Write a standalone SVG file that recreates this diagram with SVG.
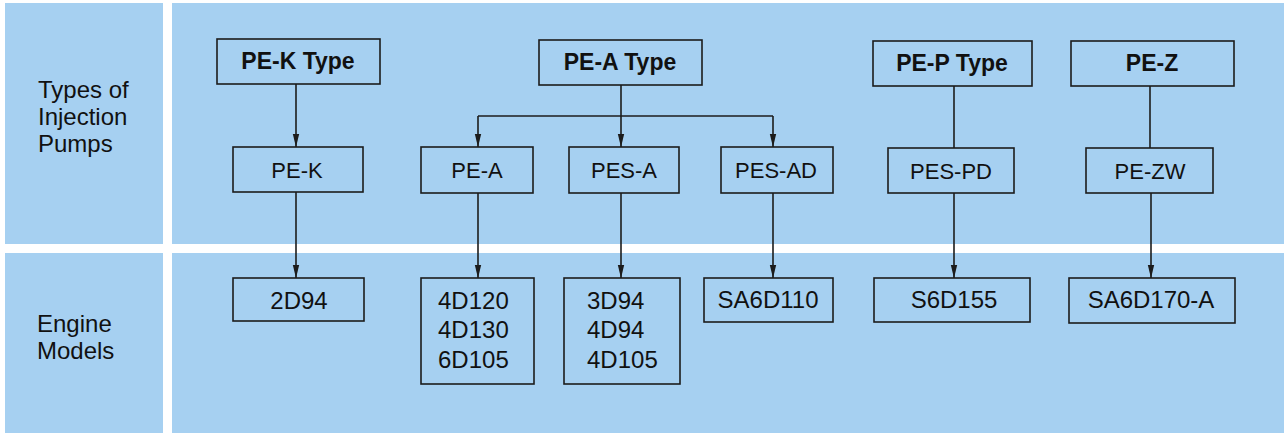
<svg xmlns="http://www.w3.org/2000/svg" width="1284" height="435" viewBox="0 0 1284 435">
<defs>
<style>
.panel{fill:#a6d0f1}
.box{fill:#a6d0f1;stroke:#1c1c1c;stroke-width:1.6}
.t{font-family:"Liberation Sans",Arial,sans-serif;fill:#111;text-anchor:middle}
.b{font-weight:bold;font-size:23px}
.m{font-size:22px}
.e{font-size:24px}
.lab{font-family:"Liberation Sans",Arial,sans-serif;fill:#111;font-size:24px}
.ln{stroke:#1c1c1c;stroke-width:1.6;fill:none}
</style>
<marker id="ah" markerWidth="14" markerHeight="8" refX="13" refY="4" orient="auto" markerUnits="userSpaceOnUse" viewBox="0 0 14 8">
<path d="M0,0.8 L13,4 L0,7.2 Z" fill="#1c1c1c"/>
</marker>
</defs>
<rect width="1284" height="435" fill="#ffffff"/>
<g id="panels">
<rect class="panel" x="5" y="3" width="158" height="241"/>
<rect class="panel" x="172" y="3" width="1112" height="241"/>
<rect class="panel" x="5" y="253" width="158" height="180"/>
<rect class="panel" x="172" y="253" width="1112" height="180"/>
</g>
<g id="row-labels">
<text class="lab" x="38" y="98">Types of</text>
<text class="lab" x="38" y="125">Injection</text>
<text class="lab" x="38" y="152">Pumps</text>
<text class="lab" x="37" y="332">Engine</text>
<text class="lab" x="37" y="359">Models</text>
</g>
<g id="connectors">
<line class="ln" x1="296" y1="84" x2="296" y2="147" marker-end="url(#ah)"/>
<line class="ln" x1="296" y1="192" x2="296" y2="278" marker-end="url(#ah)"/>
<line class="ln" x1="621" y1="85" x2="621" y2="116"/>
<line class="ln" x1="478" y1="116" x2="773" y2="116"/>
<line class="ln" x1="478" y1="116" x2="478" y2="147" marker-end="url(#ah)"/>
<line class="ln" x1="621" y1="116" x2="621" y2="147" marker-end="url(#ah)"/>
<line class="ln" x1="773" y1="116" x2="773" y2="147" marker-end="url(#ah)"/>
<line class="ln" x1="478" y1="193" x2="478" y2="278" marker-end="url(#ah)"/>
<line class="ln" x1="621" y1="193" x2="621" y2="278" marker-end="url(#ah)"/>
<line class="ln" x1="773" y1="193" x2="773" y2="278" marker-end="url(#ah)"/>
<line class="ln" x1="954" y1="86" x2="954" y2="148"/>
<line class="ln" x1="954" y1="193" x2="954" y2="278" marker-end="url(#ah)"/>
<line class="ln" x1="1150" y1="86" x2="1150" y2="148"/>
<line class="ln" x1="1151" y1="193" x2="1151" y2="278" marker-end="url(#ah)"/>
</g>
<g id="pek-type"><rect class="box" x="217" y="39" width="163" height="45"/><text class="t b" x="298" y="69">PE-K Type</text></g>
<g id="pea-type"><rect class="box" x="539" y="40" width="163" height="45"/><text class="t b" x="620" y="70">PE-A Type</text></g>
<g id="pep-type"><rect class="box" x="873" y="41" width="159" height="45"/><text class="t b" x="952" y="71">PE-P Type</text></g>
<g id="pez"><rect class="box" x="1071" y="41" width="163" height="45"/><text class="t b" x="1152" y="71">PE-Z</text></g>
<g id="pe-k"><rect class="box" x="233" y="147" width="130" height="45"/><text class="t m" x="297" y="178">PE-K</text></g>
<g id="pe-a"><rect class="box" x="421" y="147" width="112" height="46"/><text class="t m" x="477" y="178">PE-A</text></g>
<g id="pes-a"><rect class="box" x="569" y="147" width="110" height="46"/><text class="t m" x="624" y="178">PES-A</text></g>
<g id="pes-ad"><rect class="box" x="721" y="147" width="112" height="46"/><text class="t m" x="776" y="178">PES-AD</text></g>
<g id="pes-pd"><rect class="box" x="888" y="148" width="126" height="45"/><text class="t m" x="951" y="179">PES-PD</text></g>
<g id="pe-zw"><rect class="box" x="1086" y="148" width="127" height="45"/><text class="t m" x="1150" y="179">PE-ZW</text></g>
<g id="m-2d94"><rect class="box" x="233" y="278" width="131" height="43"/><text class="t e" x="299" y="309">2D94</text></g>
<g id="m-pea"><rect class="box" x="421" y="278" width="113" height="106"/>
<text class="lab" x="438" y="309">4D120</text>
<text class="lab" x="438" y="338">4D130</text>
<text class="lab" x="438" y="368">6D105</text></g>
<g id="m-pesa"><rect class="box" x="564" y="278" width="116" height="106"/>
<text class="lab" x="587" y="309">3D94</text>
<text class="lab" x="587" y="338">4D94</text>
<text class="lab" x="587" y="368">4D105</text></g>
<g id="m-sa6d110"><rect class="box" x="704" y="278" width="129" height="44"/><text class="t e" x="768" y="308">SA6D110</text></g>
<g id="m-s6d155"><rect class="box" x="874" y="278" width="156" height="44"/><text class="t e" x="954" y="308">S6D155</text></g>
<g id="m-sa6d170"><rect class="box" x="1069" y="278" width="166" height="45"/><text class="t e" x="1151" y="308">SA6D170-A</text></g>
</svg>
